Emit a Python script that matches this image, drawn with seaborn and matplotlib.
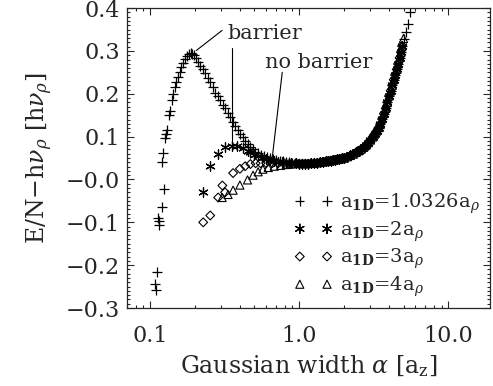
import matplotlib
matplotlib.use("Agg")
import numpy as np
import matplotlib.pyplot as plt
import seaborn as sns
from matplotlib.ticker import FixedLocator, FixedFormatter, LogLocator, MultipleLocator, NullFormatter

sns.set_style("ticks")
plt.rcParams['font.family'] = ['DejaVu Serif']
plt.rcParams['mathtext.fontset'] = 'dejavuserif'

# --- data: Gaussian width alpha [a_z] vs E/N - h nu_rho ---
# a_1D = 1.0326 a_rho (crosses), left/peak part
plus_alpha = [0.108, 0.110, 0.111, 0.113, 0.115, 0.115, 0.120, 0.124, 0.120, 0.122,
              0.126, 0.128, 0.130, 0.134, 0.137, 0.140, 0.143, 0.147, 0.150, 0.154,
              0.158, 0.162, 0.167, 0.172, 0.177, 0.182, 0.187, 0.192, 0.197, 0.203,
              0.209, 0.216, 0.225, 0.234, 0.243, 0.253, 0.263, 0.273, 0.284, 0.295,
              0.306, 0.318, 0.331, 0.344, 0.358, 0.372, 0.386, 0.400, 0.417, 0.434,
              0.450, 0.468, 0.487, 0.507, 0.53, 0.55, 0.58, 0.61, 0.64, 0.67,
              0.70, 0.74, 0.78, 0.82, 0.86, 0.90, 5.00, 5.20, 5.39, 5.56]
plus_e = [-0.243, -0.259, -0.217, -0.089, -0.096, -0.107, -0.065, -0.023, 0.040, 0.061,
          0.096, 0.106, 0.116, 0.150, 0.160, 0.185, 0.200, 0.215, 0.227, 0.240,
          0.252, 0.263, 0.273, 0.282, 0.289, 0.293, 0.295, 0.294, 0.290, 0.283,
          0.275, 0.266, 0.257, 0.248, 0.238, 0.227, 0.215, 0.203, 0.194, 0.185,
          0.175, 0.166, 0.155, 0.145, 0.135, 0.126, 0.116, 0.107, 0.099, 0.091,
          0.083, 0.076, 0.070, 0.065, 0.061, 0.058, 0.055, 0.052, 0.050, 0.048,
          0.046, 0.044, 0.042, 0.041, 0.040, 0.039, 0.327, 0.345, 0.362, 0.390]

# a_1D = 2 a_rho (asterisks)
star_alpha = [0.227, 0.253, 0.286, 0.318, 0.355, 0.384, 0.42, 0.45, 0.47, 0.50,
              0.53, 0.56, 0.60, 0.64, 0.68, 0.72, 0.77, 0.82, 0.88]
star_e = [-0.030, 0.032, 0.060, 0.075, 0.079, 0.079, 0.073, 0.067, 0.063, 0.058,
          0.054, 0.051, 0.048, 0.045, 0.043, 0.041, 0.040, 0.039, 0.038]

# a_1D = 3 a_rho (diamonds)
diam_alpha = [0.227, 0.253, 0.286, 0.305, 0.318, 0.36, 0.40, 0.434, 0.47, 0.51,
              0.55, 0.60, 0.66, 0.72, 0.79, 0.86]
diam_e = [-0.100, -0.084, -0.042, -0.014, -0.030, 0.015, 0.025, 0.031, 0.036, 0.038,
          0.038, 0.038, 0.038, 0.038, 0.038, 0.037]

# a_1D = 4 a_rho (triangles)
tri_alpha = [0.304, 0.333, 0.36, 0.40, 0.45, 0.49, 0.53, 0.57, 0.62, 0.68,
             0.75, 0.82, 0.88, 5.00]
tri_e = [-0.042, -0.035, -0.025, -0.013, -0.001, 0.010, 0.018, 0.024, 0.028, 0.031,
         0.033, 0.035, 0.036, 0.329]

# branch shared by all four widths (alpha > ~0.9)
right_alpha = [0.95, 1.00, 1.05, 1.10, 1.15, 1.20, 1.26, 1.32, 1.38, 1.44,
               1.50, 1.56, 1.62, 1.68, 1.74, 1.80, 1.86, 1.92, 2.00, 2.10,
               2.20, 2.30, 2.40, 2.50, 2.60, 2.70, 2.80, 2.90, 3.00, 3.10,
               3.20, 3.30, 3.40, 3.50, 3.60, 3.70, 3.80, 3.90, 4.00, 4.10,
               4.20, 4.30, 4.40, 4.50, 4.60, 4.70, 4.80, 4.90]
right_e = [0.038, 0.037, 0.037, 0.037, 0.037, 0.038, 0.038, 0.039, 0.040, 0.041,
           0.042, 0.043, 0.044, 0.045, 0.046, 0.047, 0.048, 0.049, 0.050, 0.053,
           0.056, 0.059, 0.063, 0.067, 0.071, 0.075, 0.080, 0.086, 0.092, 0.099,
           0.106, 0.113, 0.121, 0.130, 0.142, 0.154, 0.166, 0.180, 0.195, 0.207,
           0.220, 0.233, 0.245, 0.257, 0.270, 0.284, 0.297, 0.312]

labels = [r"a$_{\mathbf{1D}}$=1.0326a$_\rho$", r"a$_{\mathbf{1D}}$=2a$_\rho$",
          r"a$_{\mathbf{1D}}$=3a$_\rho$", r"a$_{\mathbf{1D}}$=4a$_\rho$"]

x_ticks = [0.1, 1.0, 10.0]
x_ticklabels = ["0.1", "1.0", "10.0"]
y_ticks = [-0.3, -0.2, -0.1, 0.0, 0.1, 0.2, 0.3, 0.4]
y_ticklabels = ["\u22120.3", "\u22120.2", "\u22120.1", "\u22120.0", "0.1", "0.2", "0.3", "0.4"]

# annotation guide lines (alpha, E)
barrier_line1 = ([0.204, 0.304], [0.301, 0.348])
barrier_line2 = ([0.355, 0.355], [0.308, 0.086])
nobarrier_line = ([0.769, 0.659], [0.250, 0.051])

fig = plt.figure(figsize=(4.93, 3.86), dpi=100)
ax = fig.add_axes([0.2576, 0.202, 0.7363, 0.777])

styles = [
    dict(marker="+", s=45, color="k", linewidth=0.9),
    dict(marker=(6, 2, 0), s=45, color="k", linewidth=0.9),
    dict(marker="D", s=20, color="k", facecolor="none", edgecolor="k", linewidth=0.8),
    dict(marker="^", s=34, color="k", facecolor="none", edgecolor="k", linewidth=0.8),
]
series = [(plus_alpha, plus_e), (star_alpha, star_e), (diam_alpha, diam_e), (tri_alpha, tri_e)]

for (a, e), lab, kw in zip(series, labels, styles):
    xs = list(a) + right_alpha
    ys = list(e) + right_e
    sns.scatterplot(x=xs, y=ys, ax=ax, label=lab, **kw)

ax.set_xscale("log")
ax.set_xlim(0.07, 19.0)
ax.set_ylim(-0.3, 0.4)

ax.xaxis.set_major_locator(FixedLocator(x_ticks))
ax.xaxis.set_major_formatter(FixedFormatter(x_ticklabels))
ax.xaxis.set_minor_locator(LogLocator(base=10, subs=np.arange(2, 10)))
ax.xaxis.set_minor_formatter(NullFormatter())
ax.yaxis.set_major_locator(FixedLocator(y_ticks))
ax.yaxis.set_major_formatter(FixedFormatter(y_ticklabels))
ax.yaxis.set_minor_locator(MultipleLocator(0.01))

ax.tick_params(which="both", direction="in", top=True, right=True, width=0.8, labelsize=16)
ax.tick_params(which="major", length=5)
ax.tick_params(which="minor", length=2.5)
ax.tick_params(axis="x", which="major", pad=12)
ax.tick_params(axis="y", which="major", pad=5)
for sp in ax.spines.values():
    sp.set_linewidth(0.9)

ax.set_xlabel(r"Gaussian width $\alpha$ [a$_{\rm z}$]", fontsize=17, labelpad=5)
ax.set_ylabel("E/N\u2212h$\\nu_\\rho$ [h$\\nu_\\rho$]", fontsize=17, labelpad=8)

for lx, ly in [barrier_line1, barrier_line2, nobarrier_line]:
    ax.plot(lx, ly, color="k", lw=0.8)
ax.text(0.329, 0.341, "barrier", fontsize=15, ha="left", va="center")
ax.text(0.591, 0.273, "no barrier", fontsize=15, ha="left", va="center")

ax.legend(loc="lower left", bbox_to_anchor=(0.46, 0.03), frameon=False, fontsize=14,
          scatterpoints=2, scatteryoffsets=[0.5], handlelength=2.0, handletextpad=0.37,
          labelspacing=0.18, borderpad=0, borderaxespad=0)

fig.savefig("out.png", dpi=100)
